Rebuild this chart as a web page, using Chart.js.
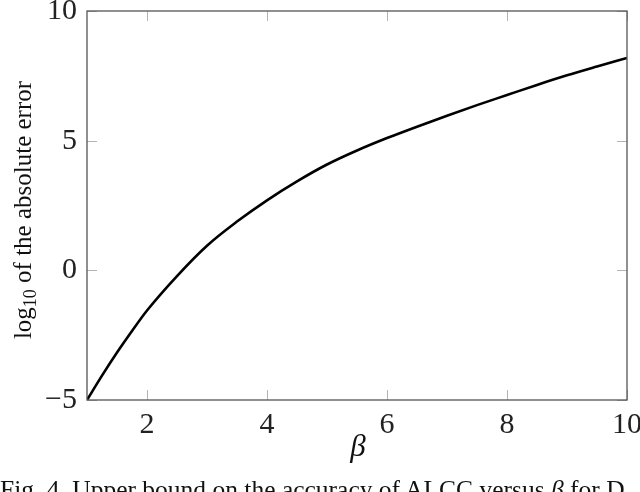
<!DOCTYPE html>
<html>
<head>
<meta charset="utf-8">
<script src="https://cdn.jsdelivr.net/npm/chart.js@4.4.1/dist/chart.umd.min.js"></script>
<style>
  html, body { margin: 0; padding: 0; background: #fff; width: 640px; height: 492px; overflow: hidden; }
  #wrap { position: relative; width: 640px; height: 492px; overflow: hidden; }
  canvas { position: absolute; left: 0; top: 0; }
  #caption { position: absolute; left: 0; top: 478px; font-family: "Liberation Serif", serif; font-size: 25.5px; line-height: 24px; white-space: nowrap; color: #111; }
</style>
</head>
<body>
<div id="wrap">
  <canvas id="c" width="640" height="492"></canvas>
  <div id="caption">Fig. 4. Upper bound on the accuracy of ALCC versus <i>β</i> for D</div>
</div>
<script>
const betaValues = [1, 1.25, 1.5, 1.75, 2, 2.5, 3, 3.5, 4, 4.5, 5, 5.5, 6, 6.5, 7, 7.5, 8, 8.5, 9, 9.5, 10];
const log10Error = [-5, -4.06, -3.17, -2.34, -1.55, -0.22, 0.95, 1.88, 2.7, 3.43, 4.08, 4.62, 5.1, 5.54, 5.96, 6.37, 6.76, 7.15, 7.52, 7.86, 8.19];
const xTickValues = [2, 4, 6, 8, 10];
const yTickValues = [-5, 0, 5, 10];
const xTitle = 'β';
const yTitleMain = 'log';
const yTitleSub = '10';
const yTitleRest = ' of the absolute error';

const serif = '"Liberation Serif", "DejaVu Serif", serif';

const framePlugin = {
  id: 'frame',
  afterDatasetsDraw(chart) {
    const ctx = chart.ctx;
    const a = chart.chartArea;
    const xs = chart.scales.x, ys = chart.scales.y;
    ctx.save();
    ctx.strokeStyle = '#b4b4b4';
    ctx.lineWidth = 1;
    const tl = 10;
    ctx.beginPath();
    xTickValues.forEach(v => {
      const px = Math.round(xs.getPixelForValue(v)) + 0.5;
      ctx.moveTo(px, a.bottom); ctx.lineTo(px, a.bottom - tl);
      ctx.moveTo(px, a.top); ctx.lineTo(px, a.top + tl);
    });
    yTickValues.forEach(v => {
      const py = Math.round(ys.getPixelForValue(v)) + 0.5;
      ctx.moveTo(a.left, py); ctx.lineTo(a.left + tl, py);
      ctx.moveTo(a.right, py); ctx.lineTo(a.right - tl, py);
    });
    ctx.stroke();
    ctx.strokeStyle = '#555';
    ctx.lineWidth = 1.3;
    ctx.strokeRect(a.left, a.top, a.right - a.left, a.bottom - a.top);
    ctx.restore();
  },
  afterDraw(chart) {
    const ctx = chart.ctx;
    ctx.save();
    ctx.fillStyle = '#111';
    ctx.font = 'italic 31px ' + serif;
    ctx.textAlign = 'center';
    ctx.textBaseline = 'alphabetic';
    ctx.fillText(xTitle, 358, 456);
    const fs = 25, subFs = 18;
    ctx.font = fs + 'px ' + serif;
    const w1 = ctx.measureText(yTitleMain).width;
    const w3 = ctx.measureText(yTitleRest).width;
    ctx.font = subFs + 'px ' + serif;
    const w2 = ctx.measureText(yTitleSub).width;
    const total = w1 + w2 + w3;
    ctx.translate(31, 210);
    ctx.rotate(-Math.PI / 2);
    const x0 = -total / 2;
    ctx.textAlign = 'left';
    ctx.font = fs + 'px ' + serif;
    ctx.fillText(yTitleMain, x0, 0);
    ctx.font = subFs + 'px ' + serif;
    ctx.fillText(yTitleSub, x0 + w1, 5);
    ctx.font = fs + 'px ' + serif;
    ctx.fillText(yTitleRest, x0 + w1 + w2, 0);
    ctx.restore();
  }
};

new Chart(document.getElementById('c'), {
  type: 'line',
  data: {
    datasets: [{
      data: betaValues.map((b, i) => ({ x: b, y: log10Error[i] })),
      borderColor: '#000',
      borderWidth: 2.6,
      pointRadius: 0,
      fill: false,
      cubicInterpolationMode: 'monotone'
    }]
  },
  plugins: [framePlugin],
  options: {
    responsive: false,
    animation: false,
    devicePixelRatio: 1,
    layout: { padding: { top: 11, right: 13, left: 0, bottom: 0 } },
    plugins: { legend: { display: false }, tooltip: { enabled: false } },
    scales: {
      x: {
        type: 'linear',
        min: 1, max: 10,
        afterBuildTicks: s => { s.ticks = xTickValues.map(v => ({ value: v })); },
        grid: { display: false, drawTicks: false },
        border: { display: false },
        ticks: { font: { family: serif, size: 30 }, color: '#222', padding: 7, maxRotation: 0, autoSkip: false },
        afterFit: s => { s.height = 92; s.paddingLeft = 0; s.paddingRight = 0; }
      },
      y: {
        min: -5, max: 10,
        afterBuildTicks: s => { s.ticks = yTickValues.map(v => ({ value: v })); },
        grid: { display: false, drawTicks: false },
        border: { display: false },
        ticks: {
          font: { family: serif, size: 30 }, color: '#222', padding: 10, autoSkip: false,
          callback: v => String(v).replace('-', '\u2212')
        },
        afterFit: s => { s.width = 87; s.paddingTop = 0; s.paddingBottom = 0; }
      }
    }
  }
});
</script>
</body>
</html>
